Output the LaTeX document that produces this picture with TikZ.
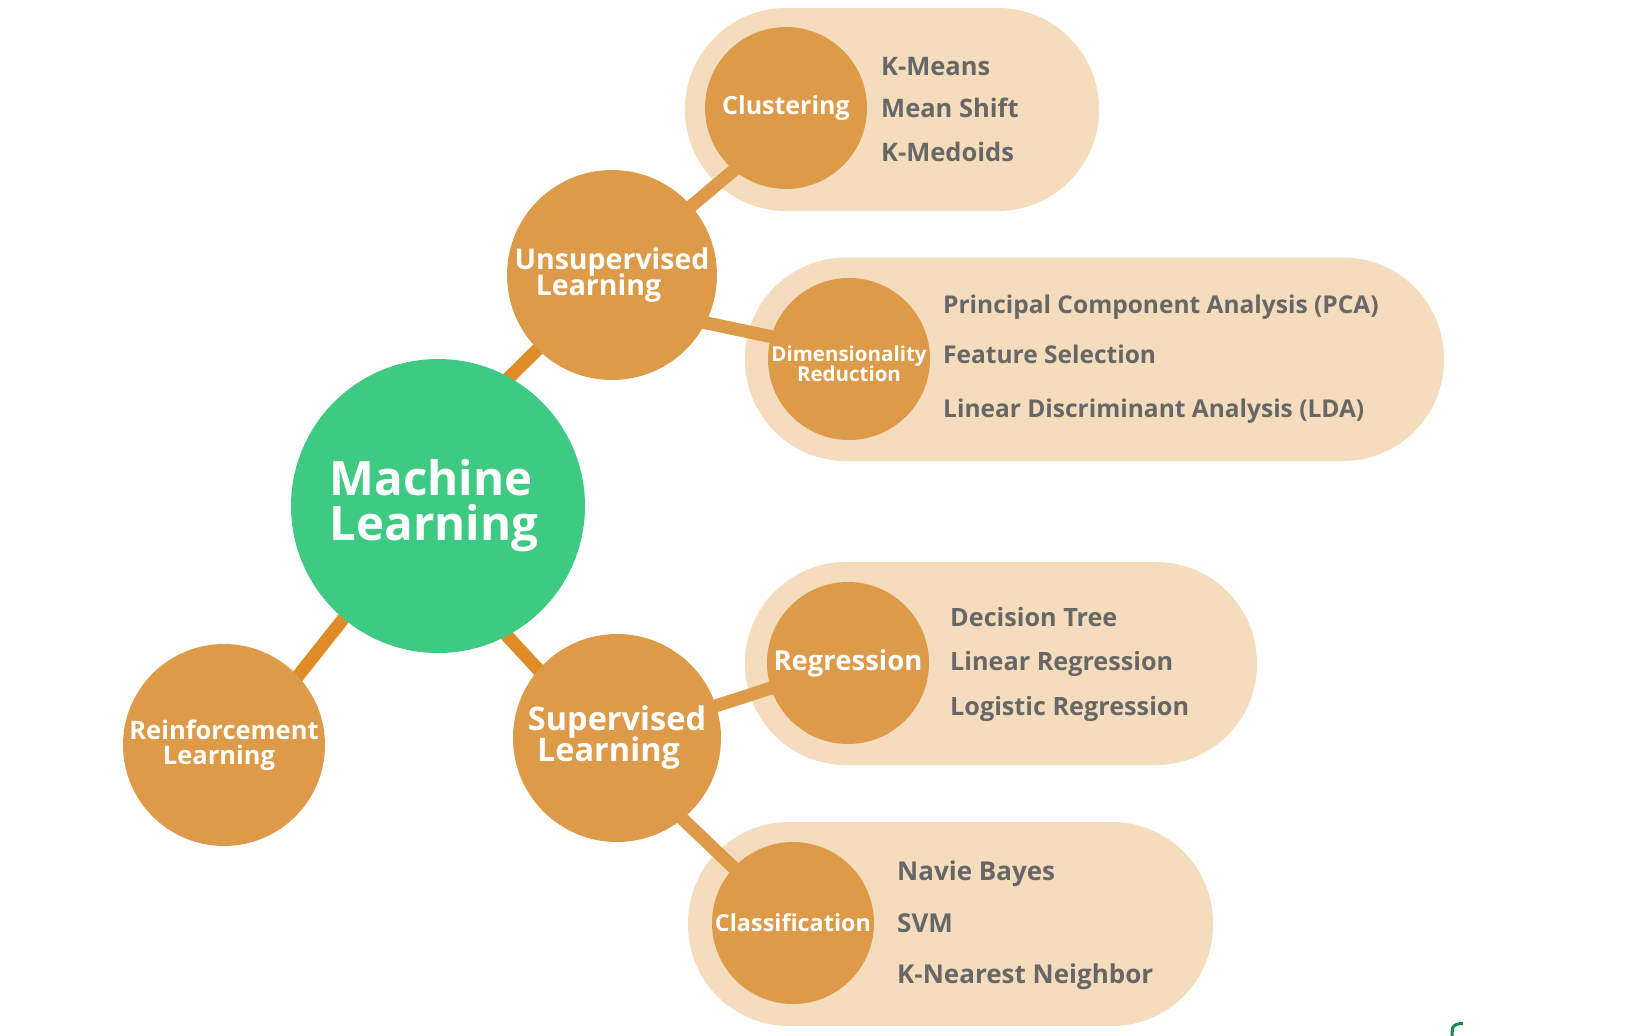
\documentclass[tikz,border=0pt]{standalone}
\usepackage{fontspec}
\setmainfont{Open Sans}
\usetikzlibrary{backgrounds}
\definecolor{mlgreen}{HTML}{3ECA82}
\definecolor{orng}{HTML}{DD9A49}
\definecolor{lineor}{HTML}{DF8C28}
\definecolor{pillc}{HTML}{F5DCBD}
\definecolor{txtgray}{HTML}{676767}
\definecolor{markgreen}{HTML}{1A8A4C}
\begin{document}
\begin{tikzpicture}[x=1pt,y=-1pt,
  every node/.append style={execute at begin node={\lineskiplimit=-100pt}},
  bubble/.style={circle,fill=orng,text=white,inner sep=0pt,align=center},
  item/.style={anchor=base west,inner sep=0pt,text=txtgray,font=\bfseries\fontsize{25.5}{25.5}\selectfont},
  regitem/.style={item,font=\bfseries\fontsize{25.2}{25.2}\selectfont},
  smallitem/.style={item,font=\bfseries\fontsize{24.5}{24.5}\selectfont},
  clsitem/.style={item,font=\bfseries\fontsize{26}{26}\selectfont},
  link/.style={line width=13pt,draw=lineor,shorten <=-10pt,shorten >=-10pt},
  sublink/.style={line width=13pt,draw=orng,shorten <=-10pt,shorten >=-10pt},
  pill/.style={fill=pillc,rounded corners=101pt}]
\useasboundingbox (0,0) rectangle (1628,1036);

% circles
\node[circle,fill=mlgreen,inner sep=0pt,minimum size=294pt] (ml) at (438,506) {};
\node[text=white,inner sep=0pt,align=left,
  font=\bfseries\fontsize{47.5}{45}\selectfont] (mltxt) at (434,506) {Machine\\Learning};
\node[bubble,minimum size=210pt,font=\bfseries\fontsize{28.5}{26}\selectfont] (unsup) at (612,275) {Unsupervised\\Learning\hspace*{27pt}};
\node[bubble,minimum size=208pt,font=\bfseries\fontsize{32.5}{31}\selectfont] (sup) at (617,738) {Supervised\\Learning\hspace*{17pt}};
\node[bubble,minimum size=202pt,font=\bfseries\fontsize{25.5}{25}\selectfont] (reinf) at (224,745) {Reinforcement\\Learning\hspace*{10pt}};
\node[bubble,minimum size=162pt,font=\bfseries\fontsize{25}{25}\selectfont] (clust) at (786,108) {Clustering};
\node[bubble,minimum size=162pt] (dim) at (849,359) {};
\node[text=white,inner sep=0pt,align=center,font=\bfseries\fontsize{20.5}{20}\selectfont] (dimtxt) at (849,364) {Dimensionality\\Reduction};
\node[bubble,minimum size=162pt,font=\bfseries\fontsize{27.5}{27.5}\selectfont] (reg) at (848,663) {Regression};
\node[bubble,minimum size=162pt,font=\bfseries\fontsize{23.4}{23.4}\selectfont] (cls) at (793,923) {Classification};

\begin{scope}[on background layer]
  \fill[pill] (685,8) rectangle (1099,211);
  \fill[pill] (745,257.5) rectangle (1444,461);
  \fill[pill] (745,562) rectangle (1257,765);
  \fill[pill] (688,822) rectangle (1213,1026);
  \draw[link] (ml.61) -- (unsup.225);
  \draw[link] (ml.230) -- (reinf.43);
  \draw[link] (ml.298) -- (sup.139);
  \draw[sublink] (unsup.41) -- (clust.230);
  \draw[sublink] (unsup.333) -- (dim.164);
  \draw[sublink] (sup.18) -- (reg.198);
  \draw[sublink] (sup.309) -- (cls.137);
\end{scope}

% lists
\node[item] (c1) at (881,75) {K-Means};
\node[item] (c2) at (881,117) {Mean Shift};
\node[item] (c3) at (881,161) {K-Medoids};
\node[smallitem] (d1) at (943,313) {Principal Component Analysis (PCA)};
\node[smallitem] (d2) at (943,363) {Feature Selection};
\node[smallitem] (d3) at (943,417) {Linear Discriminant Analysis (LDA)};
\node[regitem] (r1) at (950,626) {Decision Tree};
\node[regitem] (r2) at (950,670) {Linear Regression};
\node[regitem] (r3) at (950,715) {Logistic Regression};
\node[clsitem] (k1) at (897,880) {Navie Bayes};
\node[clsitem] (k2) at (897,932) {SVM};
\node[clsitem] (k3) at (897,983) {K-Nearest Neighbor};

% small mark bottom right
\draw[markgreen,line width=3pt] (1452,1036) -- (1452.5,1028) .. controls (1454,1024.5) and (1458,1023.5) .. (1463,1023.5);
\end{tikzpicture}
\end{document}
